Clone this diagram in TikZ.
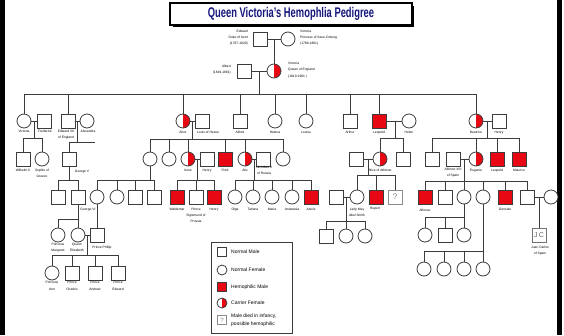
\documentclass[tikz,border=0pt]{standalone}
\usepackage{fontspec}
\usepackage{graphicx}
\setmainfont{Liberation Sans}
\usetikzlibrary{calc}
\definecolor{hred}{RGB}{232,8,20}
\definecolor{navy}{RGB}{22,22,125}
\definecolor{linec}{RGB}{60,60,60}
\newcommand{\lblf}{\fontsize{3.3}{5.5}\selectfont}
\newcommand{\lblg}{\fontsize{3.3}{7}\selectfont}
\newcommand{\legf}{\fontsize{5}{8}\selectfont}
\begin{document}
\begin{tikzpicture}[x=1pt,y=-1pt,
  conn/.style={draw=linec, line width=0.9pt},
  sym/.style={draw=linec, line width=0.8pt, fill=white, inner sep=0pt, outer sep=0pt},
  male/.style={sym, rectangle, minimum size=14pt},
  fem/.style={sym, circle, minimum size=14pt},
  hemo/.style={male, fill=hred},
  carrier/.style={fem, path picture={\fill[hred] (path picture bounding box.north) rectangle (path picture bounding box.south east);}},
  qmale/.style={male, draw=black!45, text=black!50, font=\fontsize{8}{8}\selectfont},
  lbl/.style={font=\lblf, align=center, inner sep=0pt, anchor=north},
  legt/.style={font=\legf, align=left, inner sep=0pt, anchor=west},
]
\useasboundingbox (0,0) rectangle (564,335);
% frame bars
\fill[black] (0,0) rectangle (5,335);
\fill[black] (557,0) rectangle (561.5,335);
% title
\fill[black] (172.5,5.5) rectangle (414,27);
\draw[line width=1.2pt, fill=white] (170,3) rectangle (412,25);
\node[font=\bfseries\fontsize{14}{14}\selectfont, text=navy, inner sep=0pt] (title) at (291,14) {\scalebox{0.67}[1]{Queen Victoria's Hemophlia Pedigree}};

% ---------- generation 1
\node[male] (edw) at (260,39) {};
\node[fem] (vkent) at (288,39) {};
\draw[conn] (edw) -- (vkent);
\node[lbl, anchor=east, align=right, font=\fontsize{3.3}{6}\selectfont] (edwl) at (248,38) {Edward\\Duke of Kent\\(1767-1820)};
\node[lbl, anchor=west, align=left, font=\fontsize{3.3}{6}\selectfont] (vkentl) at (300,38) {Victoria\\Princess of Saxe-Coburg\\(1786-1861)};
\coordinate (c0) at (274,39);

% ---------- generation 2
\node[carrier] (qv) at (274,71) {};
\node[male] (albert) at (244,71) {};
\draw[conn] (c0) -- (qv);
\draw[conn] (albert) -- (qv);
\node[lbl, anchor=east, align=right, font=\fontsize{3.3}{6}\selectfont] (albl) at (231,70) {Albert\\(1819-1861)};
\node[lbl, anchor=west, align=left, font=\fontsize{3.3}{6.5}\selectfont] (qvl) at (288,70) {Victoria\\Queen of England\\(1819-1901 )};
\coordinate (c1) at (259,71);
\coordinate (s1L) at (24,94);
\coordinate (s1R) at (476,94);
\draw[conn] (c1) -- (c1 |- s1L);
\draw[conn] (s1L) -- (s1R);

% ---------- generation 3
\node[fem] (vic1) at (24,121) {};
\node[male] (fred) at (44,121) {};
\node[male] (ed7) at (68,121) {};
\node[fem] (alexa) at (87,121) {};
\node[carrier] (alice) at (183,121) {};
\node[male] (louis) at (202,121) {};
\node[male] (alfred) at (240,121) {};
\node[fem] (helena) at (275,121) {};
\node[fem] (louise) at (306,121) {};
\node[male] (arthur) at (350,121) {};
\node[hemo] (leo) at (379,121) {};
\node[fem] (helen) at (409,121) {};
\node[carrier] (beat) at (476,121) {};
\node[male] (henryB) at (499,121) {};
\foreach \n in {vic1,ed7,alice,alfred,helena,louise,arthur,leo,beat}
  \draw[conn] (\n) -- (\n |- s1L);
\node[lbl] at (24,130) {Victoria};
\node[lbl] at (45,130) {Frederick};
\node[lbl] at (66,130) {Edward VII\\of England};
\node[lbl] at (88,130) {Alexandra};
\node[lbl] at (183,131) {Alice};
\node[lbl] at (208,131) {Louis of Hesse};
\node[lbl] at (240,131) {Alfred};
\node[lbl] at (275,131) {Helena};
\node[lbl] at (306,131) {Louise};
\node[lbl] at (350,131) {Arthur};
\node[lbl] at (379,131) {Leopold};
\node[lbl] at (409,131) {Helen};
\node[lbl] at (476,131) {Beatrice};
\node[lbl] at (499,131) {Henry};

% couples of generation 3
\draw[conn] (vic1) -- (fred);
\coordinate (c2) at (34,121);
\coordinate (s2L) at (23,138);
\coordinate (s2R) at (42,138);
\draw[conn] (c2) -- (c2 |- s2L);
\draw[conn] (s2L) -- (s2R);

\draw[conn] (ed7) -- (alexa);
\coordinate (c3) at (77.5,121);
\coordinate (s3L) at (69,142);
\coordinate (s3R) at (95,142);
\draw[conn] (c3) -- (c3 |- s3L);
\draw[conn] (s3L) -- (s3R);

\draw[conn] (alice) -- (louis);
\coordinate (c4) at (192.5,121);
\coordinate (s4L) at (150,139);
\coordinate (s4R) at (283,139);
\draw[conn] (c4) -- (c4 |- s4L);
\draw[conn] (s4L) -- (s4R);

\draw[conn] (leo) -- (helen);
\coordinate (c5) at (395,121);
\coordinate (s5L) at (380,138);
\coordinate (s5R) at (403,138);
\draw[conn] (c5) -- (c5 |- s5L);
\draw[conn] (s5L) -- (s5R);

\draw[conn] (beat) -- (henryB);
\coordinate (c6) at (487.5,121);
\coordinate (s6L) at (432,138);
\coordinate (s6R) at (519,138);
\draw[conn] (c6) -- (c6 |- s6L);
\draw[conn] (s6L) -- (s6R);

% ---------- generation 4
\node[male] (wil) at (23,159) {};
\node[fem] (soph) at (42,159) {};
\node[male] (geo5) at (69,159) {};
\node[fem] (vicH) at (150,159) {};
\node[fem] (eliz) at (169,159) {};
\node[carrier] (irene) at (188,159) {};
\node[male] (henryP) at (207,159) {};
\node[hemo] (fredH) at (225,159) {};
\node[carrier] (alix) at (245,159) {};
\node[male] (nich) at (263,159) {};
\node[fem] (marie) at (283,159) {};
\node[male] (alexC) at (356,159) {};
\node[carrier] (aliceA) at (380,159) {};
\node[male] (charlesE) at (403,159) {};
\node[male] (alexM) at (432,159) {};
\node[male] (alf13) at (453,159) {};
\node[carrier] (eug) at (476,159) {};
\node[hemo] (leoB) at (497,159) {};
\node[hemo] (maur) at (519,159) {};
\foreach \n in {wil,soph} \draw[conn] (\n) -- (\n |- s2L);
\draw[conn] (geo5) -- (geo5 |- s3L);
\foreach \n in {vicH,eliz,irene,fredH,alix,marie} \draw[conn] (\n) -- (\n |- s4L);
\foreach \n in {aliceA,charlesE} \draw[conn] (\n) -- (\n |- s5L);
\foreach \n in {alexM,eug,leoB,maur} \draw[conn] (\n) -- (\n |- s6L);
\node[lbl] at (23,169) {Wilhelm II};
\node[lbl] at (42,169) {Sophie of\\Greece};
\node[lbl] at (82,170) {George V};
\node[lbl] at (188,169) {Irene};
\node[lbl] at (207,169) {Henry};
\node[lbl] at (225,169) {Fred};
\node[lbl] at (245,169) {Alix};
\node[lbl] at (264,166) {Nicholas II\\of Russia};
\node[lbl] at (380,169) {Alice of Athlone};
\node[lbl] at (453,168) {Alfonso XIII\\of Spain};
\node[lbl] at (476,169) {Eugenie};
\node[lbl] at (497,169) {Leopold};
\node[lbl] at (519,169) {Maurice};

% families of generation 4
\coordinate (s7L) at (58,180);
\coordinate (s7R) at (78,180);
\draw[conn] (geo5) -- (geo5 |- s7L);
\draw[conn] (s7L) -- (s7R);

\coordinate (s8L) at (97,180);
\coordinate (s8R) at (154,180);
\draw[conn] (vicH) -- (vicH |- s8L);
\draw[conn] (s8L) -- (s8R);

\draw[conn] (irene) -- (henryP);
\coordinate (c9) at (197.5,159);
\coordinate (s9L) at (177,180);
\coordinate (s9R) at (214,180);
\draw[conn] (c9) -- (c9 |- s9L);
\draw[conn] (s9L) -- (s9R);

\draw[conn] (alix) -- (nich);
\coordinate (c10) at (254,159);
\coordinate (s10L) at (235,180);
\coordinate (s10R) at (311,180);
\draw[conn] (c10) -- (c10 |- s10L);
\draw[conn] (s10L) -- (s10R);

\draw[conn] (alexC) -- (aliceA);
\coordinate (c11) at (368,159);
\coordinate (s11L) at (357,175);
\coordinate (s11R) at (395,175);
\draw[conn] (c11) -- (c11 |- s11L);
\draw[conn] (s11L) -- (s11R);

\draw[conn] (alf13) -- (eug);
\coordinate (c12) at (464.5,159);
\coordinate (s12L) at (425,181);
\coordinate (s12R) at (527,181);
\draw[conn] (c12) -- (c12 |- s12L);
\draw[conn] (s12L) -- (s12R);

% ---------- generation 5
\node[male] (ed8) at (58,197) {};
\node[male] (geo6) at (78,197) {};
\node[fem] (aliceB) at (97,197) {};
\node[fem] (louiseB) at (117,197) {};
\node[male] (georgeB) at (135,197) {};
\node[male] (louisM) at (154,197) {};
\node[hemo] (wald) at (177,197) {};
\node[male] (sigis) at (196,197) {};
\node[hemo] (henryI) at (214,197) {};
\node[fem] (olga) at (235,197) {};
\node[fem] (tat) at (253,197) {};
\node[fem] (maria) at (272,197) {};
\node[fem] (anast) at (292,197) {};
\node[hemo] (alexis) at (311,197) {};
\node[male] (henryAS) at (336,197) {};
\node[fem] (ladymay) at (357,197) {};
\node[hemo] (rupert) at (376,197) {};
\node[qmale] (unk) at (395,197) {?};
\node[hemo] (alfonso) at (425,197) {};
\node[male] (jaime) at (445,197) {};
\node[fem] (beatriz) at (464,197) {};
\node[fem] (mcris) at (483,197) {};
\node[hemo] (gonzalo) at (505,197) {};
\node[male] (juan) at (527,197) {};
\node[fem] (juanw) at (551,197) {};
\foreach \n in {ed8,geo6} \draw[conn] (\n) -- (\n |- s7L);
\foreach \n in {aliceB,louiseB,georgeB,louisM} \draw[conn] (\n) -- (\n |- s8L);
\foreach \n in {wald,sigis,henryI} \draw[conn] (\n) -- (\n |- s9L);
\foreach \n in {olga,tat,maria,anast,alexis} \draw[conn] (\n) -- (\n |- s10L);
\foreach \n in {ladymay,rupert,unk} \draw[conn] (\n) -- (\n |- s11L);
\foreach \n in {alfonso,jaime,beatriz,mcris,gonzalo,juan} \draw[conn] (\n) -- (\n |- s12L);
\node[lbl] at (88,208) {George VI};
\node[lbl] at (177,208) {Waldemar};
\node[lbl, font=\fontsize{3.3}{6}\selectfont] at (196,208) {Prince\\Sigismund of\\Prussia};
\node[lbl] at (214,208) {Henry};
\node[lbl] at (235,208) {Olga};
\node[lbl] at (253,208) {Tatiana};
\node[lbl] at (272,208) {Maria};
\node[lbl] at (292,208) {Anastasia};
\node[lbl] at (311,208) {Alexis};
\node[lbl] at (357,208) {Lady May\\Abel Smith};
\node[lbl] at (375,207.5) {Rupert};
\node[lbl] at (425,209) {Alfonso};
\node[lbl] at (505,207.5) {Gonzalo};

% families of generation 5
\coordinate (s13L) at (58,219);
\coordinate (s13R) at (78,219);
\draw[conn] (geo6) -- (geo6 |- s13L);
\draw[conn] (s13L) -- (s13R);

\draw[conn] (henryAS) -- (ladymay);
\coordinate (c14) at (346.5,197);
\coordinate (s14L) at (326,221);
\coordinate (s14R) at (365,221);
\draw[conn] (c14) -- (c14 |- s14L);
\draw[conn] (s14L) -- (s14R);

\coordinate (s15L) at (425,217);
\coordinate (s15R) at (464,217);
\draw[conn] (beatriz) -- (beatriz |- s15L);
\draw[conn] (s15L) -- (s15R);

\coordinate (s16L) at (424,251);
\coordinate (s16R) at (483,251);
\draw[conn] (mcris) -- (mcris |- s16L);
\draw[conn] (s16L) -- (s16R);

\draw[conn] (juan) -- (juanw);
\coordinate (c17) at (539,197);

% ---------- generation 6
\node[fem] (margaret) at (58,235) {};
\node[fem] (elizII) at (78,235) {};
\node[male] (philip) at (97,235) {};
\node[male] (lm1) at (326,236) {};
\node[fem] (lm2) at (346,236) {};
\node[fem] (lm3) at (365,236) {};
\node[fem] (bz1) at (425,235) {};
\node[male] (bz2) at (445,235) {};
\node[fem] (bz3) at (464,235) {};
\node[male, draw=black!55, text=black!60, font=\fontsize{7}{7}\selectfont] (jc) at (539,235) {J\,C};
\foreach \n in {margaret,elizII} \draw[conn] (\n) -- (\n |- s13L);
\draw[conn] (aliceB) -- (philip);
\foreach \n in {lm1,lm2,lm3} \draw[conn] (\n) -- (\n |- s14L);
\foreach \n in {bz1,bz2,bz3} \draw[conn] (\n) -- (\n |- s15L);
\draw[conn] (c17) -- (jc);
\node[lbl] at (58,243) {Princess\\Margaret};
\node[lbl] at (77,243) {Queen\\Elizabeth};
\node[lbl] at (102,245.5) {Prince Phillip};
\node[lbl] at (540,246) {Juan Carlos\\of Spain};

\draw[conn] (elizII) -- (philip);
\coordinate (c18) at (87.5,235);
\coordinate (s18L) at (52,255);
\coordinate (s18R) at (118,255);
\draw[conn] (c18) -- (c18 |- s18L);
\draw[conn] (s18L) -- (s18R);

% ---------- generation 7
\node[fem] (anne) at (52,273) {};
\node[male] (charles) at (72,273) {};
\node[male] (andrew) at (95,273) {};
\node[male] (edwardP) at (118,273) {};
\foreach \n in {anne,charles,andrew,edwardP} \draw[conn] (\n) -- (\n |- s18L);
\node[lbl, font=\lblg] at (52,281) {Princess\\Ann};
\node[lbl, font=\lblg] at (72,281) {Prince\\Charles};
\node[lbl, font=\lblg] at (95,281) {Prince\\Andrew};
\node[lbl, font=\lblg] at (118,281) {Prince\\Edward};

\node[fem] (m1) at (424,269) {};
\node[fem] (m2) at (444,269) {};
\node[fem] (m3) at (464,269) {};
\node[fem] (m4) at (483,269) {};
\foreach \n in {m1,m2,m3,m4} \draw[conn] (\n) -- (\n |- s16L);

% ---------- legend
\draw[draw=linec, line width=0.8pt] (211,242) rectangle (292,333);
\node[male, minimum size=9.5pt] (lg1) at (222,252) {};
\node[fem, minimum size=10pt] (lg2) at (222,270) {};
\node[hemo, minimum size=9.5pt] (lg3) at (222,287) {};
\node[carrier, minimum size=10pt] (lg4) at (222,303) {};
\node[qmale, minimum size=9.5pt, font=\fontsize{6}{6}\selectfont] (lg5) at (222,320) {?};
\node[legt] at (231,252) {Normal Male};
\node[legt] at (231,270) {Normal Female};
\node[legt] at (231,287) {Hemophilic Male};
\node[legt] at (231,303) {Carrier Female};
\node[legt] at (231,320) {Male died in infancy,\\possible hemophilic};
\end{tikzpicture}
\end{document}
